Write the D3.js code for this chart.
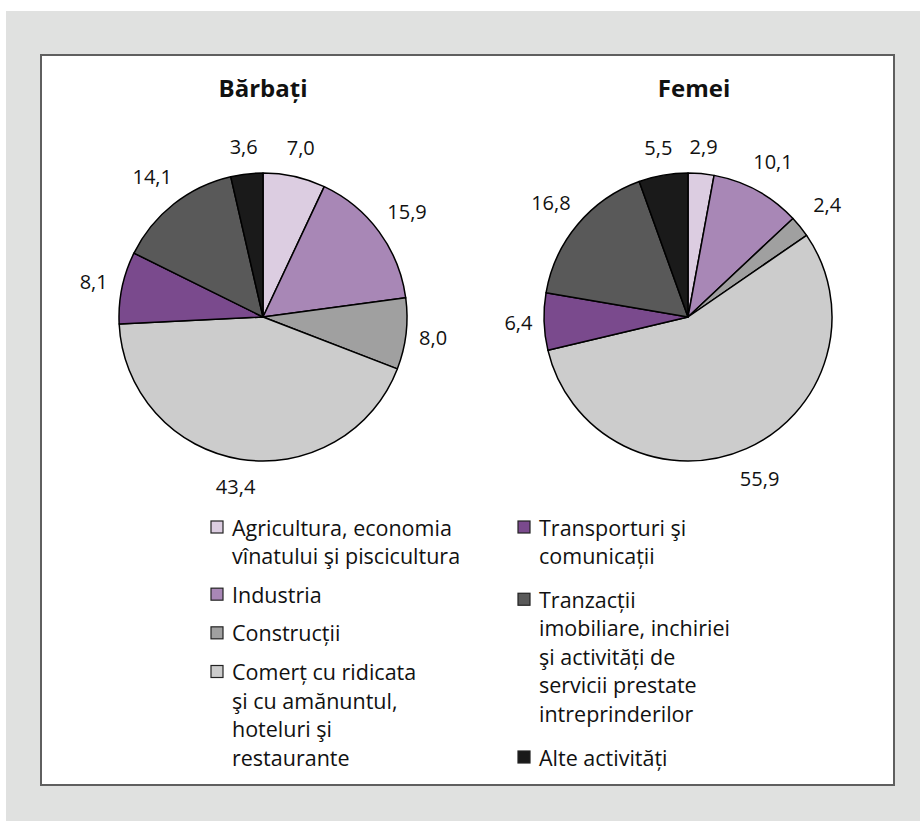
<!DOCTYPE html>
<html>
<head>
<meta charset="utf-8">
<script src="https://cdn.jsdelivr.net/npm/d3@7"></script>
<style>
  body { margin: 0; background: #fff; }
  text { font-family: "Open Sans", sans-serif; fill: #111; }
</style>
</head>
<body>
<div id="chart"></div>
<script>
// categories, clockwise from 12 o'clock
var categories = ["Agricultura", "Industria", "Constructii", "Comert", "Transporturi", "Tranzactii", "Alte"];
var barbati = [7.0, 15.9, 8.0, 43.4, 8.1, 14.1, 3.6];
var femei = [2.9, 10.1, 2.4, 55.9, 6.4, 16.8, 5.5];
var pieTitles = ["Bărbați", "Femei"];
var colors = ["#dccde1", "#a887b6", "#a0a0a0", "#cccccc", "#7a4a8d", "#595959", "#1a1a1a"];
// legend texts, already wrapped the way the original shows them
var legendLeft = [
  ["Agricultura, economia", "vînatului şi piscicultura"],
  ["Industria"],
  ["Construcții"],
  ["Comerț cu ridicata", "şi cu amănuntul,", "hoteluri şi", "restaurante"]
];
var legendRight = [
  ["Transporturi şi", "comunicații"],
  ["Tranzacții", "imobiliare, inchiriei", "şi activități de", "servicii prestate", "intreprinderilor"],
  ["Alte activități"]
];

var W = 920, H = 821;
var svg = d3.select("#chart").append("svg")
    .attr("width", W)
    .attr("height", H);

// gray page and white frame
svg.append("rect").attr("x", 6).attr("y", 11).attr("width", W - 6).attr("height", H - 11).attr("fill", "#e0e1e0");
svg.append("rect").attr("x", 41).attr("y", 55).attr("width", 853).attr("height", 730)
    .attr("fill", "#fff").attr("stroke", "#5f5f5f").attr("stroke-width", 2);

var color = d3.scaleOrdinal().domain(categories).range(colors);
var fmt = d3.formatLocale({ decimal: ",", thousands: ".", grouping: [3], currency: ["", ""] }).format(".1f");

var radius = 144;
var pie = d3.pie().sort(null).value(function (d) { return d.v; });
var arc = d3.arc().innerRadius(0).outerRadius(radius);

var pies = [
  { title: pieTitles[0], data: barbati, cx: 263, tx: 263 },
  { title: pieTitles[1], data: femei, cx: 688, tx: 694 }
];
var cy = 317;

function labelPos(d) {
  var a = (d.startAngle + d.endAngle) / 2, r = 169 + 10 * Math.abs(Math.sin(2 * a));
  return [r * Math.sin(a), -r * Math.cos(a)];
}

pies.forEach(function (p) {
  var g = svg.append("g").attr("transform", "translate(" + p.cx + "," + cy + ")");
  var rows = p.data.map(function (v, i) { return { k: categories[i], v: v }; });
  var arcs = pie(rows);

  g.selectAll("path")
    .data(arcs)
    .enter()
    .append("path")
    .attr("d", arc)
    .attr("fill", function (d) { return color(d.data.k); })
    .attr("stroke", "#000")
    .attr("stroke-width", 1.5)
    .attr("stroke-linejoin", "round");

  // value labels outside the slices, pushed a bit further on the diagonals
  g.selectAll("text.val")
    .data(arcs)
    .enter()
    .append("text")
    .attr("class", "val")
    .attr("x", function (d) { return labelPos(d)[0]; })
    .attr("y", function (d) { return labelPos(d)[1]; })
    .attr("text-anchor", "middle")
    .attr("dominant-baseline", "central")
    .style("font-size", "20px")
    .text(function (d) { return fmt(d.data.v); });

  svg.append("text")
    .attr("x", p.tx)
    .attr("y", 97)
    .attr("text-anchor", "middle")
    .style("font-size", "24px")
    .style("font-weight", "bold")
    .text(p.title);
});

// legend: two columns, each column spread over the same height
var lineH = 28.5, legTop = 527, legBottom = 757;
function drawColumn(entries, startIdx, x) {
  var nLines = d3.sum(entries, function (e) { return e.length; });
  var extra = ((legBottom - legTop) - (nLines - 1) * lineH) / (entries.length - 1);
  var y = legTop;
  entries.forEach(function (lines, i) {
    var key = categories[startIdx + i];
    svg.append("rect")
      .attr("x", x).attr("y", y - 6)
      .attr("width", 12).attr("height", 12)
      .attr("fill", color(key))
      .attr("stroke", "#222").attr("stroke-width", 1.2);
    lines.forEach(function (t, j) {
      svg.append("text")
        .attr("x", x + 21)
        .attr("y", y + j * lineH)
        .attr("dominant-baseline", "central")
        .style("font-size", "21.5px")
        .text(t);
    });
    y += lines.length * lineH + extra;
  });
}
drawColumn(legendLeft, 0, 211);
drawColumn(legendRight, 4, 518);
</script>
</body>
</html>
